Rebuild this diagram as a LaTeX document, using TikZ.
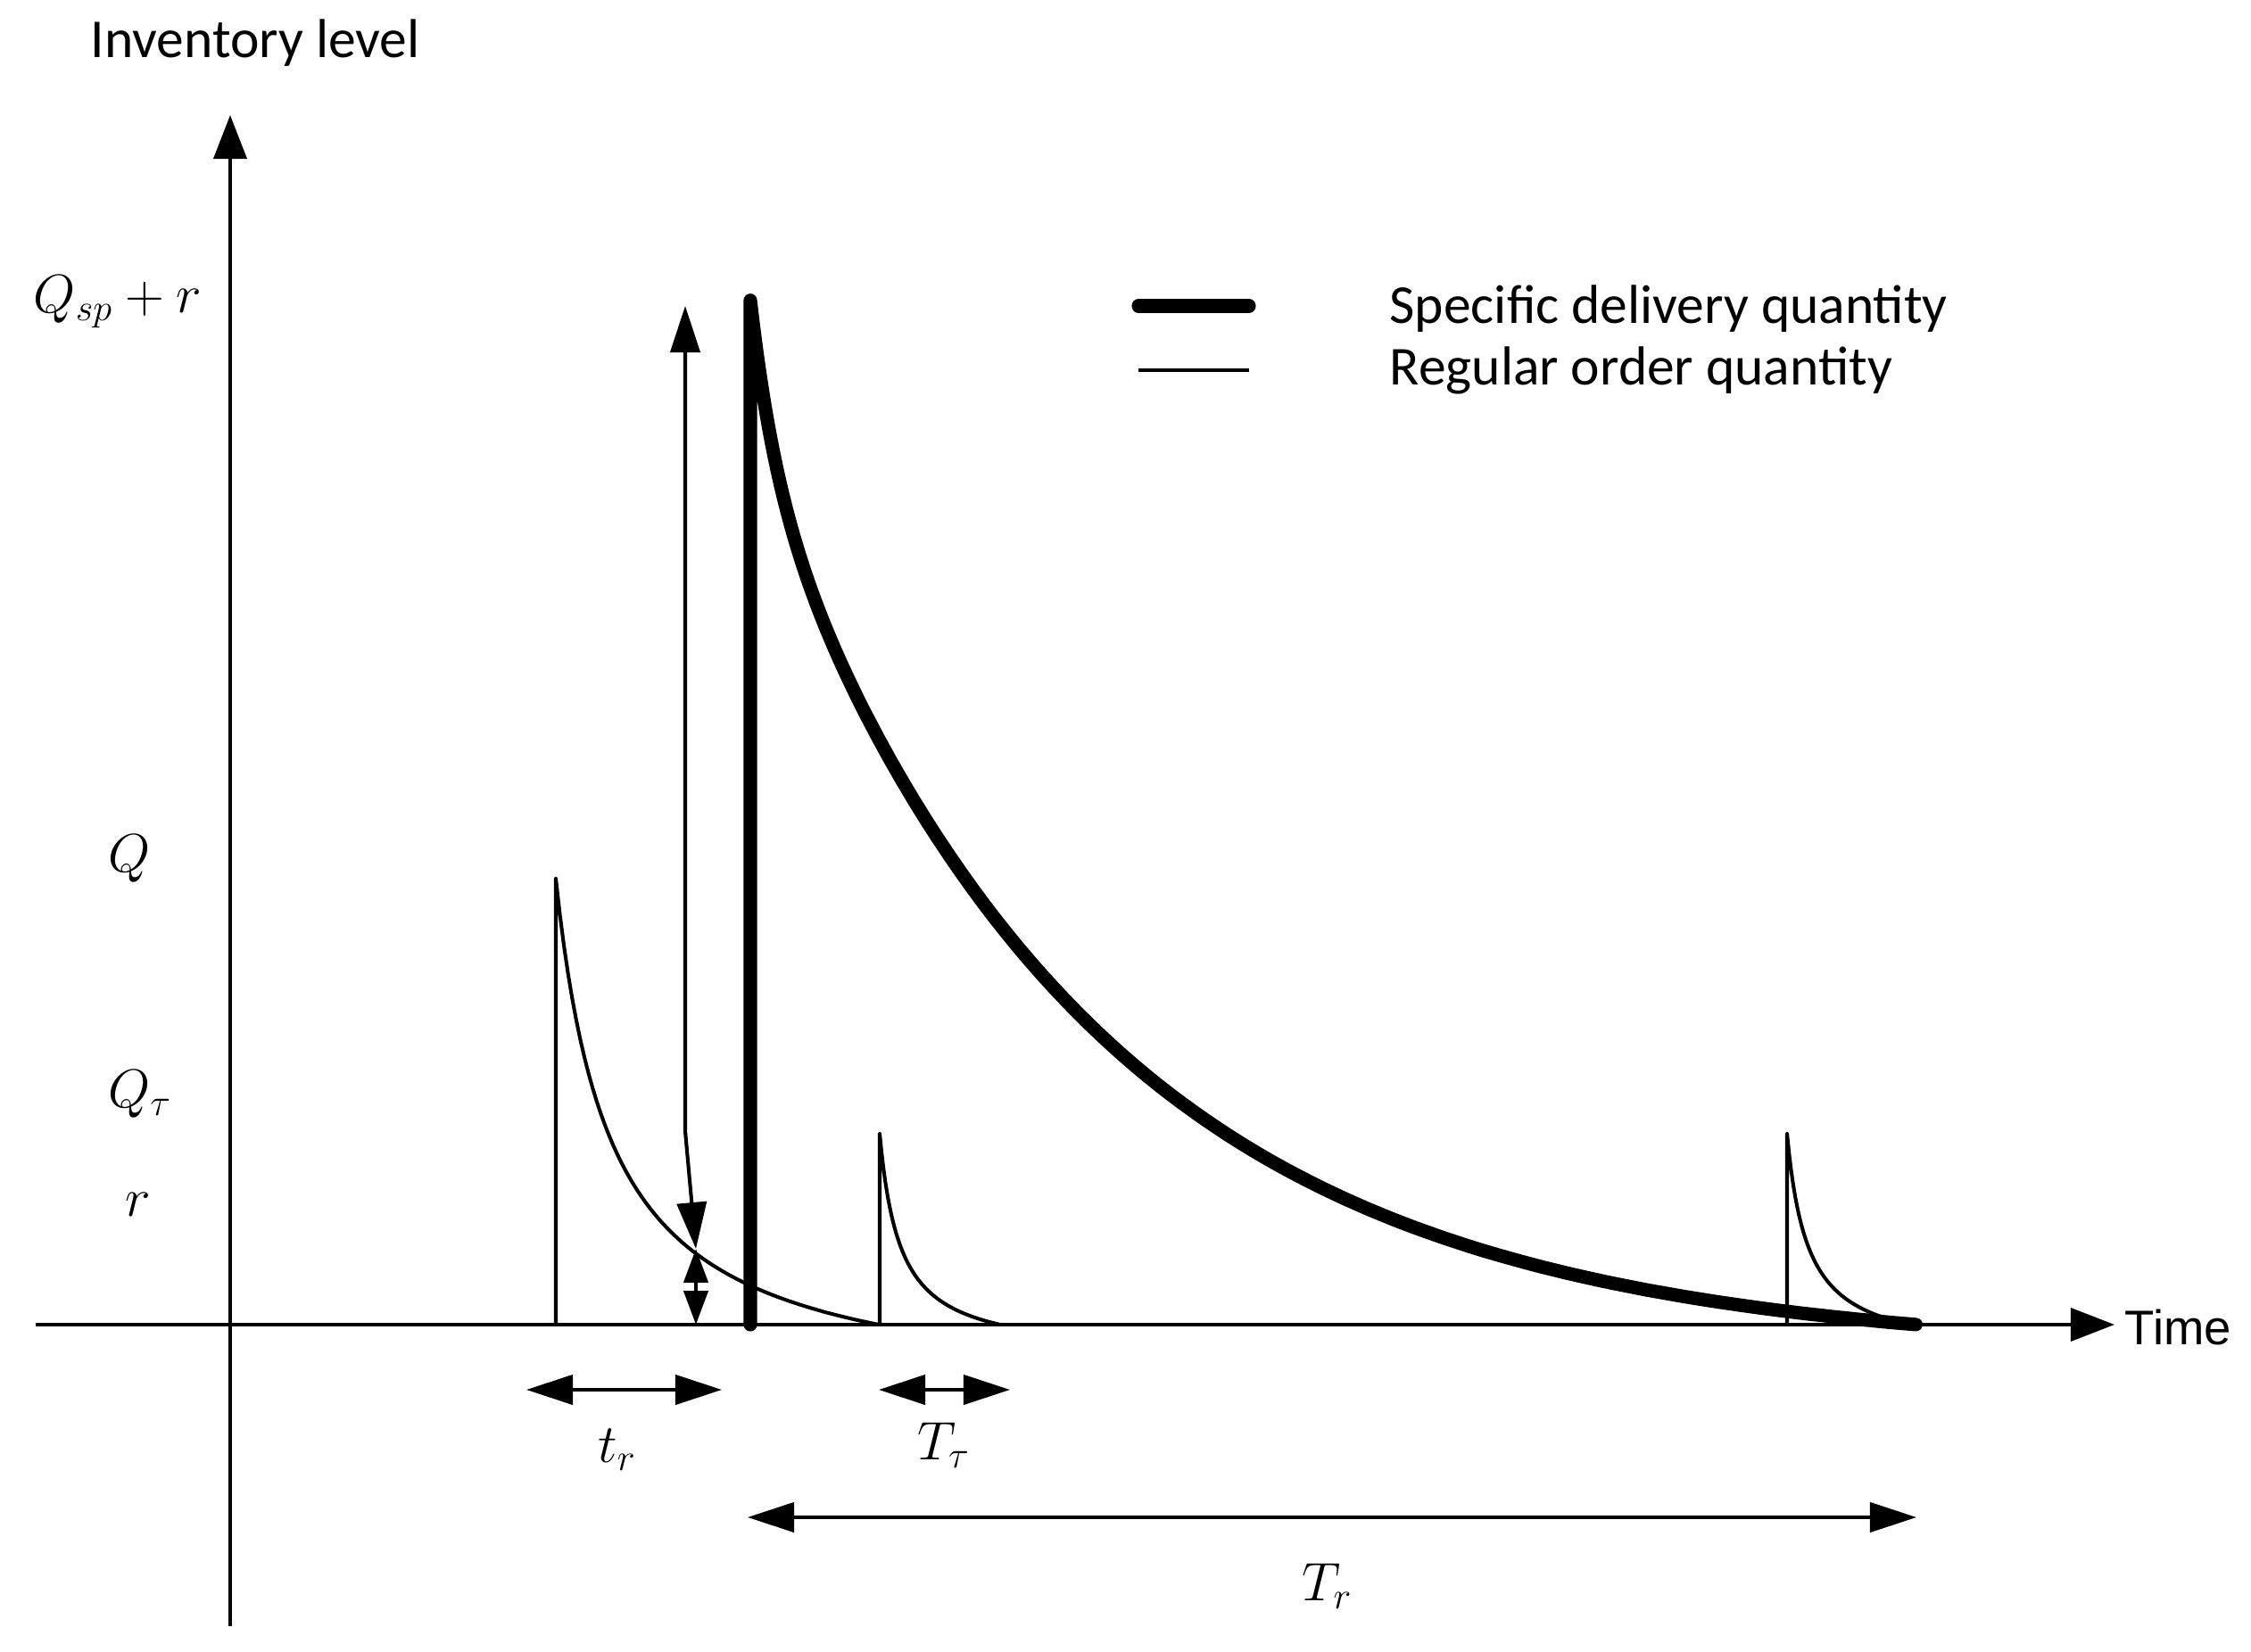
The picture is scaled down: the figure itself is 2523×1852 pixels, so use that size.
\documentclass[tikz,border=0pt]{standalone}
\usepackage{fontspec}
\setmainfont{Carlito}
\newfontfamily\arialfont{Liberation Sans}
\usetikzlibrary{arrows.meta}
\begin{document}
\begin{tikzpicture}[x=0.01cm,y=-0.01cm,
  thinln/.style={line width=1.15pt},
  axisln/.style={line width=1.3pt,-{Triangle[length=14pt,width=10.5pt]}},
  thickln/.style={line width=4.3pt, line cap=round, line join=round},
  dimarrow/.style={line width=1.15pt,{Triangle[length=14.8pt,width=9.4pt]}-{Triangle[length=14.8pt,width=9.4pt]}},
  smalldim/.style={line width=1.15pt,{Triangle[length=10.8pt,width=7.7pt]}-{Triangle[length=10.8pt,width=7.7pt]}},
  lbl/.style={font=\fontsize{17.5}{21}\selectfont, inner sep=0pt},
  mlbl/.style={font=\fontsize{16.5}{19}\selectfont, inner sep=0pt},
  declare function={hb(\s)=0.17*1.17/(\s+0.17)-0.17;
                    sd(\s)=0.875*(exp(-3.45*\s)-exp(-3.45))+0.153*exp(-\s/0.022);}
]
\useasboundingbox[fill=white] (0,0) rectangle (2523,1852);

% axes
\coordinate (ybot) at (258,1823);
\coordinate (ytop) at (258,129);
\coordinate (xl) at (40,1485);
\coordinate (xr) at (2370,1485);
\draw[axisln] (ybot) -- (ytop);
\draw[axisln] (xl) -- (xr);
\node[lbl, anchor=west] (ylab) at (101,48) {Inventory level};
\node[anchor=west, font=\arialfont\fontsize{15.5}{18}\selectfont, inner sep=0pt] (xlab) at (2381,1488) {Time};

% level labels
\node[mlbl] (lQsp) at (132,338) {$Q_{sp}+r$};
\node[mlbl] (lQ) at (145,963) {$Q$};
\node[mlbl] (lQt) at (157,1227) {$Q_\tau$};
\node[mlbl] (lr) at (155,1350) {$r$};

% regular cycles
\draw[thinln, line join=round] (623,1485) -- (623,985) -- plot[domain=0:1,samples=80] ({623+362*\x},{1485-500*hb(\x)});
\draw[thinln, line join=round] (986,1485) -- (986,1271) -- plot[domain=0:1,samples=60] ({986+135*\x},{1485-214*hb(\x)});
\draw[thinln, line join=round] (2003,1485) -- (2003,1271) -- plot[domain=0:1,samples=60] ({2003+137*\x},{1485-214*hb(\x)});

% specific delivery
\draw[thickln] (841,1485) -- (841,337)
  -- plot[domain=0:0.1,samples=51] ({841+1307*\x},{1485-1148*sd(\x)})
  -- plot[domain=0.1:1,samples=91] ({841+1307*\x},{1485-1148*sd(\x)});

% Q_sp + r arrow and r arrow
\coordinate (qtop) at (768,343);
\coordinate (qbend) at (768,1268);
\coordinate (qbot) at (780,1400);
\coordinate (zero) at (780,1485);
\draw[dimarrow, line join=round] (qtop) -- (qbend) -- (qbot);
\draw[smalldim] (qbot) -- (zero);

% time spans
\coordinate (tra) at (590,1558);
\coordinate (trb) at (809,1558);
\draw[dimarrow] (tra) -- (trb);
\node[mlbl] (ltr) at (692,1625) {$t_r$};
\coordinate (tta) at (985,1558);
\coordinate (ttb) at (1132,1558);
\draw[dimarrow] (tta) -- (ttb);
\node[mlbl] (ltt) at (1058,1620) {$T_\tau$};
\coordinate (Tra) at (838,1701);
\coordinate (Trb) at (2148,1701);
\draw[dimarrow] (Tra) -- (Trb);
\node[mlbl] (lTr) at (1488,1778) {$T_r$};

% legend
\coordinate (lg1a) at (1276,343);
\coordinate (lg1b) at (1400,343);
\coordinate (lg2a) at (1276,415);
\coordinate (lg2b) at (1400,415);
\draw[thickln] (lg1a) -- (lg1b);
\draw[line width=1.3pt] (lg2a) -- (lg2b);
\node[lbl, anchor=west] (leg1) at (1557,346) {Specific delivery quantity};
\node[lbl, anchor=west] (leg2) at (1557,415) {Regular order quantity};
\end{tikzpicture}
\end{document}
